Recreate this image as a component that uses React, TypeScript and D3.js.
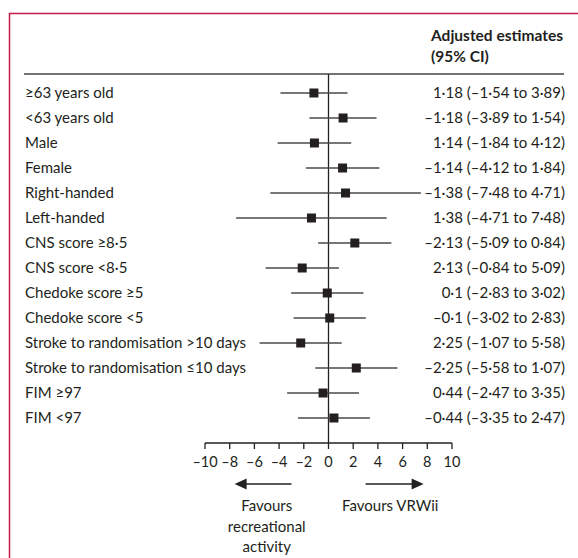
import React from 'react'
import * as d3 from 'd3'

// subgroups, top to bottom
const labels = [
  '≥63 years old',
  '<63 years old',
  'Male',
  'Female',
  'Right-handed',
  'Left-handed',
  'CNS score ≥8·5',
  'CNS score <8·5',
  'Chedoke score ≥5',
  'Chedoke score <5',
  'Stroke to randomisation >10 days',
  'Stroke to randomisation ≤10 days',
  'FIM ≥97',
  'FIM <97',
]

// adjusted estimates as printed in the right column
const estimates = [1.18, -1.18, 1.14, -1.14, -1.38, 1.38, -2.13, 2.13, 0.1, -0.1, 2.25, -2.25, 0.44, -0.44]
const lower = [-1.54, -3.89, -1.84, -4.12, -7.48, -4.71, -5.09, -0.84, -2.83, -3.02, -1.07, -5.58, -2.47, -3.35]
const upper = [3.89, 1.54, 4.12, 1.84, 4.71, 7.48, 0.84, 5.09, 3.02, 2.83, 5.58, 1.07, 3.35, 2.47]

const ticks = [-10, -8, -6, -4, -2, 0, 2, 4, 6, 8, 10]

const W = 578
const H = 558
const FONT = 'Lato, "Open Sans", sans-serif'
const INK = '#231f20'

const fmt = (v: number) => (v < 0 ? '–' : '') + String(Math.abs(v)).replace('.', '·')

const ForestPlot = () => {
  const svgRef = React.useRef<SVGSVGElement>(null)

  React.useEffect(() => {
    const svg = d3.select(svgRef.current)
    svg.selectAll('*').remove()

    const x = d3.scaleLinear().domain([-10, 10]).range([205, 452])
    const y = d3.scalePoint<string>().domain(labels).range([93, 418])

    // frame
    svg.append('path')
      .attr('d', `M9.5,${H} V13.5 H${W}`)
      .attr('fill', 'none')
      .attr('stroke', '#c8184a')
      .attr('stroke-width', 1.5)

    // header
    const head = svg.append('g')
      .attr('font-family', FONT)
      .attr('font-weight', 700)
      .attr('font-size', 15.5)
      .attr('fill', INK)
    head.append('text').attr('x', 431).attr('y', 41).text('Adjusted estimates')
    head.append('text').attr('x', 431).attr('y', 62).text('(95% CI)')

    svg.append('line')
      .attr('x1', 24).attr('x2', 564)
      .attr('y1', 74).attr('y2', 74)
      .attr('stroke', '#444')
      .attr('stroke-width', 1.3)

    // null line
    svg.append('line')
      .attr('x1', x(0)).attr('x2', x(0))
      .attr('y1', 74).attr('y2', 443)
      .attr('stroke', '#222')
      .attr('stroke-width', 1.3)

    const rows = svg.append('g')
      .selectAll('g')
      .data(labels)
      .join('g')
      .attr('transform', (d) => `translate(0,${y(d)})`)

    rows.append('text')
      .attr('x', 25)
      .attr('dy', '0.35em')
      .attr('font-family', FONT)
      .attr('font-size', 15)
      .attr('fill', INK)
      .text((d) => d)

    rows.append('text')
      .attr('x', 565)
      .attr('dy', '0.35em')
      .attr('text-anchor', 'end')
      .attr('font-family', FONT)
      .attr('font-size', 15)
      .attr('fill', INK)
      .text((d, i) => `${fmt(estimates[i])} (${fmt(lower[i])} to ${fmt(upper[i])})`)

    // the plotted marks in the source are drawn mirrored about zero relative to the printed numbers
    rows.append('line')
      .attr('x1', (d, i) => x(-upper[i]))
      .attr('x2', (d, i) => x(-lower[i]))
      .attr('stroke', '#4a4a4a')
      .attr('stroke-width', 1.3)

    rows.append('rect')
      .attr('x', (d, i) => x(-estimates[i]) - 4.5)
      .attr('y', -4.5)
      .attr('width', 9)
      .attr('height', 9)
      .attr('fill', '#231f20')

    // axis
    const axis = svg.append('g').attr('transform', 'translate(0,443)')
    axis.append('line')
      .attr('x1', x(-10)).attr('x2', x(10))
      .attr('stroke', '#222').attr('stroke-width', 1.3)
    const tk = axis.selectAll('g.tick').data(ticks).join('g')
      .attr('class', 'tick')
      .attr('transform', (d) => `translate(${x(d)},0)`)
    tk.append('line').attr('y1', 0).attr('y2', 6).attr('stroke', '#222').attr('stroke-width', 1.3)
    tk.append('text')
      .attr('y', 24)
      .attr('text-anchor', 'middle')
      .attr('font-family', FONT)
      .attr('font-size', 14.5)
      .attr('fill', INK)
      .text((d) => fmt(d))

    // direction arrows
    const arrow = (from: number, to: number) => {
      const x0 = x(from)
      const x1 = x(to)
      const dir = Math.sign(x1 - x0)
      const ay = 484
      svg.append('line')
        .attr('x1', x0).attr('x2', x1 - dir * 10)
        .attr('y1', ay).attr('y2', ay)
        .attr('stroke', '#222').attr('stroke-width', 1.5)
      svg.append('path')
        .attr('d', `M${x1},${ay} L${x1 - dir * 12},${ay - 5.5} L${x1 - dir * 12},${ay + 5.5} Z`)
        .attr('fill', '#222')
    }
    arrow(-3, -7.6)
    arrow(3, 7.7)

    const notes = svg.append('g')
      .attr('font-family', FONT)
      .attr('font-size', 15)
      .attr('fill', INK)
      .attr('text-anchor', 'middle')
    ;['Favours', 'recreational', 'activity'].forEach((t, i) => {
      notes.append('text').attr('x', x(-5)).attr('y', 511 + i * 20.5).text(t)
    })
    notes.append('text').attr('x', x(5)).attr('y', 511).text('Favours VRWii')
  }, [])

  return (
    <svg
      ref={svgRef}
      width={W}
      height={H}
      style={{ position: 'absolute', left: 0, top: 0, background: '#fff' }}
    />
  )
}

export default function App() {
  return <ForestPlot />
}
